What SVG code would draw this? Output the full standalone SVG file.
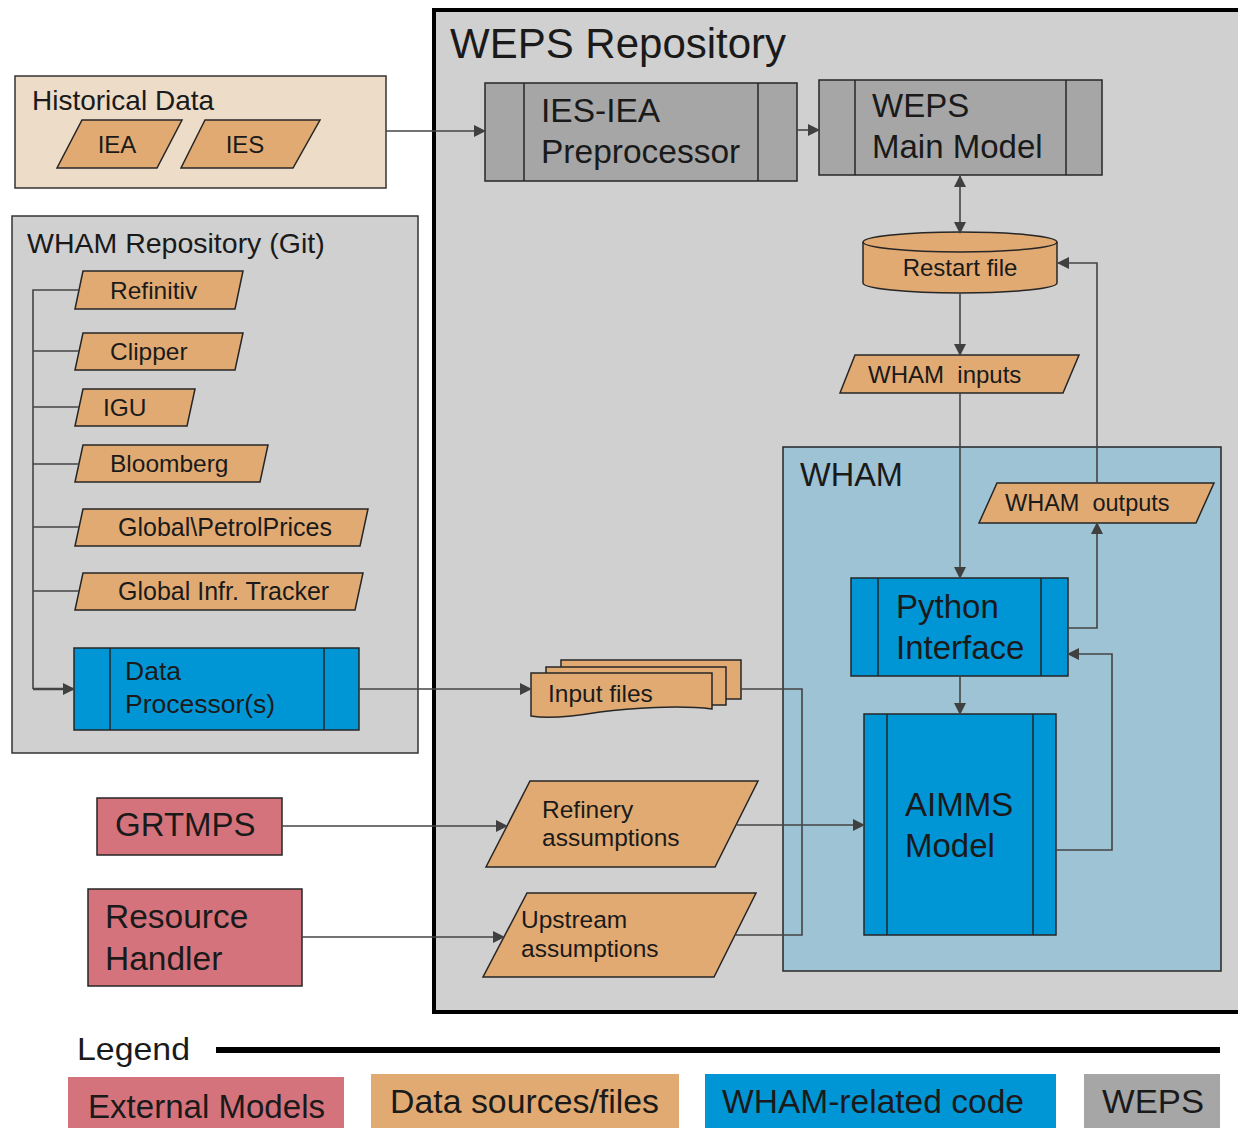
<svg xmlns="http://www.w3.org/2000/svg" width="1238" height="1128" viewBox="0 0 1238 1128">
<style>
text{font-family:"Liberation Sans",Arial,sans-serif;fill:#1a1a1a}
.box{stroke:#262626;stroke-width:1.5}
.orange{fill:#e1aa72}
.blue{fill:#0096d6}
.grey{fill:#a6a6a6}
.red{fill:#d5737d}
.conn{fill:none;stroke:#444;stroke-width:1.6}
.arr{marker-end:url(#ah)}
</style>
<defs>
<marker id="ah" markerWidth="12" markerHeight="12" refX="11" refY="6" orient="auto" markerUnits="userSpaceOnUse">
<path d="M0,0 L12,6 L0,12 Z" fill="#404040"/>
</marker>
<marker id="ahs" markerWidth="12" markerHeight="12" refX="1" refY="6" orient="auto" markerUnits="userSpaceOnUse">
<path d="M12,0 L0,6 L12,12 Z" fill="#404040"/>
</marker>
</defs>
<rect width="1238" height="1128" fill="#ffffff"/>

<g id="weps-repository">
<rect x="434" y="10" width="820" height="1002" fill="#d0d0d0" stroke="#000" stroke-width="4"/>
<text x="450" y="58" font-size="42">WEPS Repository</text>
</g>

<g id="wham">
<rect x="783" y="447" width="438" height="524" fill="#9dc3d4" stroke="#262626" stroke-width="1.5"/>
<text x="800" y="486" font-size="32.5">WHAM</text>
</g>

<g id="historical-data">
<rect x="15" y="76" width="371" height="112" fill="#ecdcc8" stroke="#333" stroke-width="1.5"/>
<text x="32" y="110" font-size="28">Historical Data</text>
</g>
<g id="iea">
<polygon class="box orange" points="82,120 182,120 157,168 57,168"/>
<text x="117" y="153" font-size="24" text-anchor="middle">IEA</text>
</g>
<g id="ies">
<polygon class="box orange" points="205,120 320,120 293,168 181,168"/>
<text x="245" y="153" font-size="24" text-anchor="middle">IES</text>
</g>

<g id="wham-repository">
<rect x="12" y="216" width="406" height="537" fill="#d0d0d0" stroke="#333" stroke-width="1.5"/>
<text x="27" y="253" font-size="28.5">WHAM Repository (Git)</text>
</g>
<g id="refinitiv">
<polygon class="box orange" points="83,271 243,271 235,309 75,309"/>
<text x="110" y="299" font-size="24.5">Refinitiv</text>
</g>
<g id="clipper">
<polygon class="box orange" points="83,333 243,333 235,370 75,370"/>
<text x="110" y="360" font-size="24.5">Clipper</text>
</g>
<g id="igu">
<polygon class="box orange" points="83,389 195,389 187,426 75,426"/>
<text x="103" y="416" font-size="24.5">IGU</text>
</g>
<g id="bloomberg">
<polygon class="box orange" points="83,445 268,445 260,482 75,482"/>
<text x="110" y="472" font-size="24.5">Bloomberg</text>
</g>
<g id="global-petrol-prices">
<polygon class="box orange" points="83,509 368,509 360,546 75,546"/>
<text x="118" y="536" font-size="25">Global\PetrolPrices</text>
</g>
<g id="global-infr-tracker">
<polygon class="box orange" points="83,573 363,573 355,610 75,610"/>
<text x="118" y="600" font-size="25">Global Infr. Tracker</text>
</g>
<g id="data-processor">
<rect class="box blue" x="74" y="648" width="285" height="82"/>
<line x1="110" y1="648" x2="110" y2="730" stroke="#262626" stroke-width="1.5"/>
<line x1="324" y1="648" x2="324" y2="730" stroke="#262626" stroke-width="1.5"/>
<text x="125" y="680" font-size="26.5">Data</text>
<text x="125" y="713" font-size="26.5">Processor(s)</text>
</g>

<g id="ies-iea-preprocessor">
<rect class="box grey" x="485" y="83" width="312" height="98"/>
<line x1="524" y1="83" x2="524" y2="181" stroke="#262626" stroke-width="1.5"/>
<line x1="758" y1="83" x2="758" y2="181" stroke="#262626" stroke-width="1.5"/>
<text x="541" y="122" font-size="33.5">IES-IEA</text>
<text x="541" y="163" font-size="33.5">Preprocessor</text>
</g>
<g id="weps-main-model">
<rect class="box grey" x="819" y="80" width="283" height="95"/>
<line x1="855" y1="80" x2="855" y2="175" stroke="#262626" stroke-width="1.5"/>
<line x1="1066" y1="80" x2="1066" y2="175" stroke="#262626" stroke-width="1.5"/>
<text x="872" y="117" font-size="33">WEPS</text>
<text x="872" y="158" font-size="33">Main Model</text>
</g>

<g id="restart-file">
<path class="box orange" d="M863,242 V283 A97,10 0 0 0 1057,283 V242 A97,10 0 0 0 863,242 Z"/>
<path d="M863,242 A97,10 0 0 0 1057,242" fill="none" stroke="#262626" stroke-width="1.5"/>
<text x="960" y="276" font-size="24" text-anchor="middle">Restart file</text>
</g>
<g id="wham-inputs">
<polygon class="box orange" points="855,355 1079,355 1063,393 840,393"/>
<text x="868" y="383" font-size="24" xml:space="preserve">WHAM  inputs</text>
</g>
<g id="wham-outputs">
<polygon class="box orange" points="997,483 1214,483 1196,523 979,523"/>
<text x="1005" y="511" font-size="23.5" xml:space="preserve">WHAM  outputs</text>
</g>
<g id="python-interface">
<rect class="box blue" x="851" y="578" width="217" height="98"/>
<line x1="878" y1="578" x2="878" y2="676" stroke="#262626" stroke-width="1.5"/>
<line x1="1041" y1="578" x2="1041" y2="676" stroke="#262626" stroke-width="1.5"/>
<text x="896" y="618" font-size="33">Python</text>
<text x="896" y="659" font-size="33">Interface</text>
</g>
<g id="aimms-model">
<rect class="box blue" x="864" y="714" width="192" height="221"/>
<line x1="887" y1="714" x2="887" y2="935" stroke="#262626" stroke-width="1.5"/>
<line x1="1033" y1="714" x2="1033" y2="935" stroke="#262626" stroke-width="1.5"/>
<text x="905" y="816" font-size="33">AIMMS</text>
<text x="905" y="857" font-size="33">Model</text>
</g>

<g id="input-files">
<rect class="box orange" x="561" y="660" width="180" height="39"/>
<rect class="box orange" x="546" y="667" width="180" height="38"/>
<path class="box orange" d="M531,673 H712 V709 C680,705 630,708 600,712 C570,717 548,719 531,716 Z"/>
<text x="548" y="702" font-size="24.5">Input files</text>
</g>
<g id="refinery-assumptions">
<polygon class="box orange" points="530,781 758,781 715,867 486,867"/>
<text x="542" y="818" font-size="24.5">Refinery</text>
<text x="542" y="846" font-size="24.5">assumptions</text>
</g>
<g id="upstream-assumptions">
<polygon class="box orange" points="527,893 756,893 714,977 483,977"/>
<text x="521" y="928" font-size="24.5">Upstream</text>
<text x="521" y="957" font-size="24.5">assumptions</text>
</g>

<g id="grtmps">
<rect class="box red" x="97" y="798" width="185" height="57"/>
<text x="115" y="836" font-size="33">GRTMPS</text>
</g>
<g id="resource-handler">
<rect class="box red" x="88" y="889" width="214" height="97"/>
<text x="105" y="928" font-size="33.5">Resource</text>
<text x="105" y="970" font-size="33.5">Handler</text>
</g>

<g id="connectors">
<path class="conn arr" d="M386,131 H485"/>
<path class="conn arr" d="M797,130 H819"/>
<path class="conn arr" d="M960,233 V176" style="marker-start:url(#ahs)"/>
<path class="conn arr" d="M960,293 V355"/>
<path class="conn arr" d="M1097,483 V263 H1058"/>
<path class="conn arr" d="M960,393 V578"/>
<path class="conn arr" d="M960,676 V714"/>
<path class="conn arr" d="M1068,628 H1097 V523"/>
<path class="conn arr" d="M1056,850 H1112 V654 H1068"/>
<path class="conn" d="M80,290 H33 V689"/>
<path class="conn" d="M33,351 H79"/>
<path class="conn" d="M33,407 H79"/>
<path class="conn" d="M33,464 H79"/>
<path class="conn" d="M33,527 H79"/>
<path class="conn" d="M33,591 H79"/>
<path class="conn arr" d="M33,689 H74" style="stroke-width:2.5"/>
<path class="conn arr" d="M359,689 H531"/>
<path class="conn" d="M741,689 H802 V935 H735"/>
<path class="conn arr" d="M737,825 H864"/>
<path class="conn arr" d="M282,826 H507"/>
<path class="conn arr" d="M302,937 H504"/>
</g>

<g id="legend">
<text x="77" y="1060" font-size="32" textLength="113" lengthAdjust="spacingAndGlyphs">Legend</text>
<line x1="216" y1="1050" x2="1220" y2="1050" stroke="#000" stroke-width="6"/>
<rect class="red" x="68" y="1077" width="276" height="51"/>
<text x="88" y="1118" font-size="34" textLength="237" lengthAdjust="spacingAndGlyphs">External Models</text>
<rect class="orange" x="371" y="1074" width="308" height="54"/>
<text x="390" y="1113" font-size="34" textLength="269" lengthAdjust="spacingAndGlyphs">Data sources/files</text>
<rect class="blue" x="705" y="1074" width="351" height="54"/>
<text x="722" y="1113" font-size="34" textLength="302" lengthAdjust="spacingAndGlyphs">WHAM-related code</text>
<rect class="grey" x="1084" y="1074" width="136" height="54"/>
<text x="1102" y="1113" font-size="34" textLength="102" lengthAdjust="spacingAndGlyphs">WEPS</text>
</g>
</svg>
